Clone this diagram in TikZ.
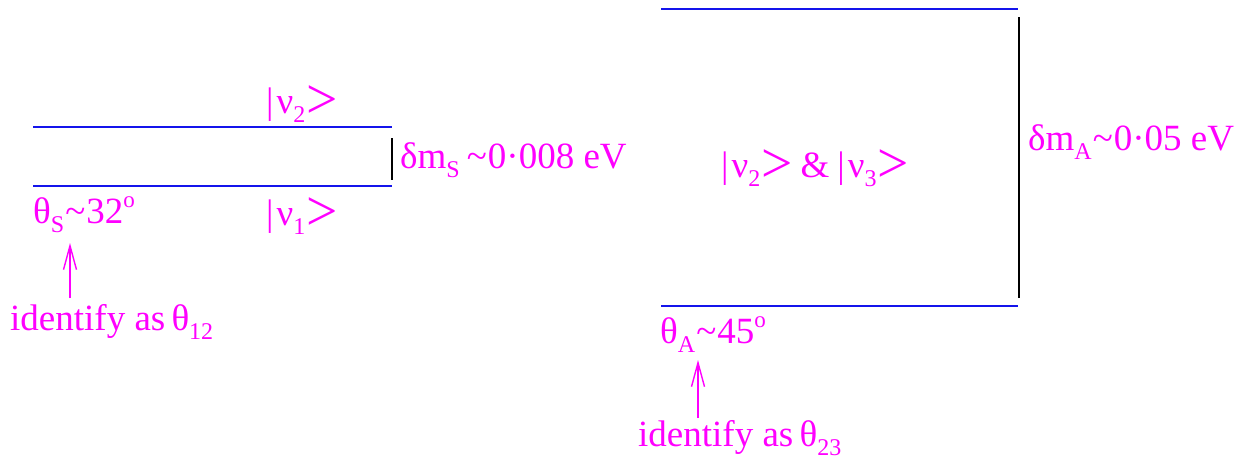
\documentclass[tikz,border=0pt]{standalone}
\usepackage{fontspec}
\usepackage{graphicx}
\setmainfont{Liberation Serif}
\usetikzlibrary{arrows.meta}
\definecolor{mag}{RGB}{255,0,255}
\definecolor{lvl}{RGB}{20,20,235}
\newcommand{\lo}[1]{\raisebox{-0.26em}{\fontsize{24}{24}\selectfont #1}}
\newcommand{\hi}[1]{\raisebox{0.42em}{\fontsize{23}{23}\selectfont #1}}
\newcommand{\tl}{\kern1pt\textasciitilde\kern1pt}
\newcommand{\bigc}{\raisebox{-0.16em}{\scalebox{1.5}[1.55]{>}}}
\newcommand{\myket}[1]{|\kern3ptν\lo{#1}\kern1pt\bigc}
\tikzset{
  lab/.style={inner sep=0pt, anchor=base west, text=mag, font=\fontsize{37}{40}\selectfont},
  level/.style={draw=lvl, line width=1.4pt},
  gap/.style={draw=black, line width=1.6pt},
  pointer/.style={draw=mag, line width=1.4pt, -{Straight Barb[length=24pt,width=13pt,line width=1.4pt]}}
}
\begin{document}
\begin{tikzpicture}[x=1pt,y=-1pt]
\useasboundingbox (0,0) rectangle (1252,463);
% left levels
\coordinate (L2a) at (33,127); \coordinate (L2b) at (392,127);
\coordinate (L1a) at (33,186); \coordinate (L1b) at (392,186);
\coordinate (Lg1) at (392,138); \coordinate (Lg2) at (392,180);
\draw[level] (L2a) -- (L2b);
\draw[level] (L1a) -- (L1b);
\draw[gap] (Lg1) -- (Lg2);
\node[lab] (nu2) at (266,113) {\myket{2}};
\node[lab] (nu1) at (266,225) {\myket{1}};
\node[lab] (dmS) at (400,168) {δm\lo{S}\,\tl0·008 eV};
\node[lab] (thS) at (33,223) {θ\lo{S}\tl32\hi{o}};
\node[lab] (id12) at (10,330) {identify as\,θ\lo{12}};
\coordinate (aL0) at (70,298); \coordinate (aL1) at (70,243);
\draw[pointer] (aL0) -- (aL1);
% right levels
\coordinate (R3a) at (661,9); \coordinate (R3b) at (1018,9);
\coordinate (R1a) at (661,306); \coordinate (R1b) at (1018,306);
\coordinate (Rg1) at (1019,17); \coordinate (Rg2) at (1019,298);
\draw[level] (R3a) -- (R3b);
\draw[level] (R1a) -- (R1b);
\draw[gap] (Rg1) -- (Rg2);
\node[lab] (nu23) at (721,177) {\myket{2}\kern8pt\&\kern8pt\myket{3}};
\node[lab] (dmA) at (1028,150) {δm\lo{A}\tl0·05 eV};
\node[lab] (thA) at (660,343) {θ\lo{A}\tl45\hi{o}};
\node[lab] (id23) at (638,446) {identify as\,θ\lo{23}};
\coordinate (aR0) at (698,418); \coordinate (aR1) at (698,360);
\draw[pointer] (aR0) -- (aR1);
\end{tikzpicture}
\end{document}
